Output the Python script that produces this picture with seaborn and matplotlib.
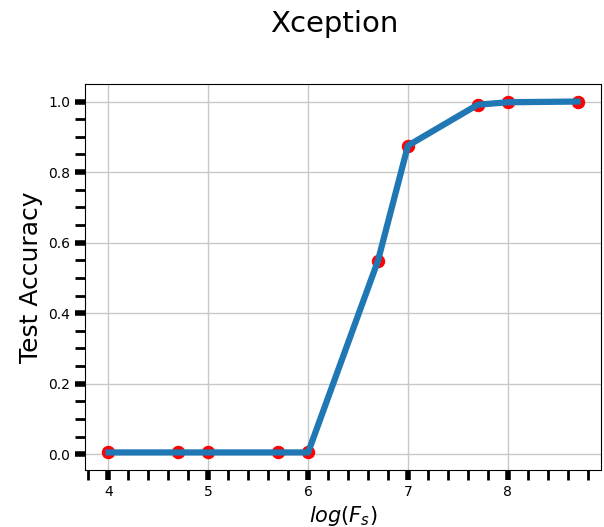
import numpy as np
import pandas as pd
import seaborn as sns
import matplotlib
matplotlib.use("Agg")
import matplotlib.pyplot as plt
from matplotlib.ticker import MultipleLocator

# data
log_fs = [4.0, 4.699, 5.0, 5.699, 6.0, 6.699, 7.0, 7.699, 8.0, 8.699]
test_acc = [0.005, 0.005, 0.005, 0.005, 0.005, 0.548, 0.875, 0.991, 0.998, 1.0]

df = pd.DataFrame({"log_fs": log_fs, "acc": test_acc})

fig = plt.figure(figsize=(6.04, 5.27), dpi=100)
ax = fig.add_axes([85 / 604, 1 - 470 / 527, 516 / 604, 386 / 527])

sns.scatterplot(data=df, x="log_fs", y="acc", color="red", s=80,
                edgecolor="red", zorder=2, ax=ax)
sns.lineplot(data=df, x="log_fs", y="acc", color="#1f77b4", lw=4.5,
             zorder=3, ax=ax)

ax.grid(True, color="#c8c8c8", lw=1, zorder=0)
ax.set_axisbelow(True)

ax.xaxis.set_major_locator(MultipleLocator(1))
ax.xaxis.set_minor_locator(MultipleLocator(0.2))
ax.yaxis.set_major_locator(MultipleLocator(0.2))
ax.yaxis.set_minor_locator(MultipleLocator(0.05))
ax.tick_params(which="major", width=4, length=7, labelsize=10)
ax.tick_params(which="minor", width=2, length=7)

ax.set_xlabel("$log(F_s)$", fontsize=15)
ax.set_ylabel("Test Accuracy", fontsize=18)
fig.text(0.553, 0.954, "Xception", ha="center", va="center", fontsize=21)

fig.savefig("out.png", dpi=100)
